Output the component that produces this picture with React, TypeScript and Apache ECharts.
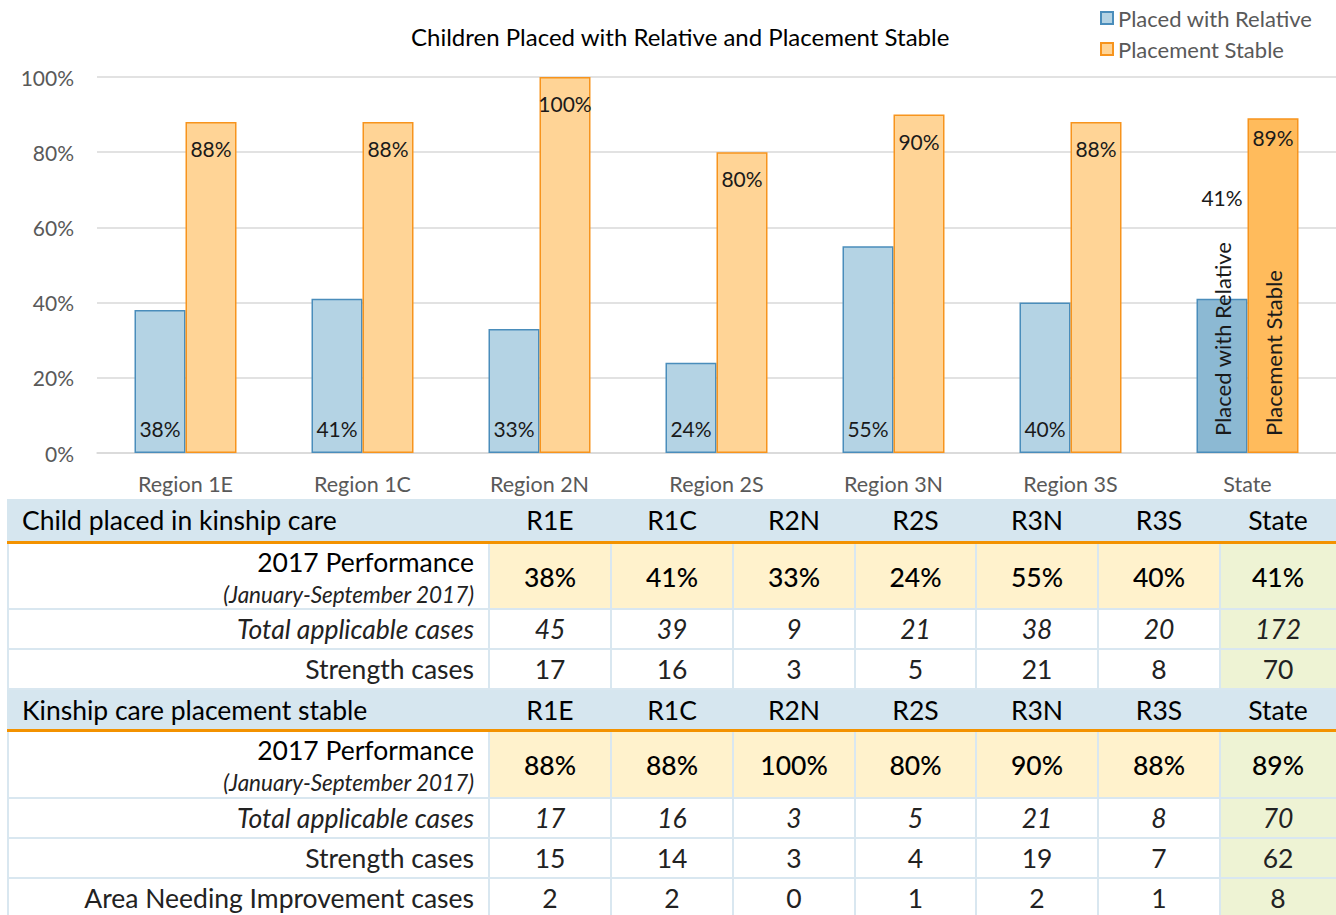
import React, { useEffect, useRef } from "react";
import * as echarts from "echarts";

const categories = ["Region 1E", "Region 1C", "Region 2N", "Region 2S", "Region 3N", "Region 3S", "State"];
const placedWithRelative = [38, 41, 33, 24, 55, 40, 41];
const placementStable = [88, 88, 100, 80, 90, 88, 89];

const tableColumns = ["R1E", "R1C", "R2N", "R2S", "R3N", "R3S", "State"];
const kinshipTotal = [45, 39, 9, 21, 38, 20, 172];
const kinshipStrength = [17, 16, 3, 5, 21, 8, 70];
const stableTotal = [17, 16, 3, 5, 21, 8, 70];
const stableStrength = [15, 14, 3, 4, 19, 7, 62];
const stableImprovement = [2, 2, 0, 1, 2, 1, 8];

const FONT = "Lato, 'Open Sans', sans-serif";

const sections = [
  {
    top: 499, headerH: 42, perfH: 64,
    title: "Child placed in kinship care",
    perf: placedWithRelative,
    rows: [
      { label: "Total applicable cases", italic: true, values: kinshipTotal },
      { label: "Strength cases", italic: false, values: kinshipStrength },
    ],
  },
  {
    top: 690, headerH: 39, perfH: 65,
    title: "Kinship care placement stable",
    perf: placementStable,
    rows: [
      { label: "Total applicable cases", italic: true, values: stableTotal },
      { label: "Strength cases", italic: false, values: stableStrength },
      { label: "Area Needing Improvement cases", italic: false, values: stableImprovement },
    ],
  },
];

const colX = [489, 611, 733, 855, 976, 1098, 1220, 1336];

function rect(x: number, y: number, w: number, h: number, fill: string) {
  return { type: "rect", silent: true, shape: { x, y, width: w, height: h }, style: { fill } };
}
function txt(x: number, y: number, s: string, o: any = {}) {
  return {
    type: "text", silent: true, x, y,
    style: {
      text: s, fill: o.fill || "#111", fontSize: o.size || 26.5, fontFamily: FONT,
      fontStyle: o.italic ? "italic" : "normal", fontWeight: o.weight || "normal",
      align: o.align || "center", verticalAlign: "middle",
    },
  };
}

function buildTable() {
  const g: any[] = [];
  g.push(rect(7, 499, 1329, 416, "#D9E7F0"));
  sections.forEach((sec) => {
    let y = sec.top;
    g.push(rect(7, y, 1329, sec.headerH, "#D6E6EF"));
    g.push(txt(22, y + sec.headerH / 2, sec.title, { align: "left", fill: "#000" }));
    tableColumns.forEach((c, i) => {
      g.push(txt((colX[i] + colX[i + 1]) / 2, y + sec.headerH / 2, c, { fill: "#000" }));
    });
    y += sec.headerH;
    g.push(rect(7, y, 1329, 3, "#F39200"));
    y += 3;
    // performance row
    g.push(rect(9, y, colX[0] - 10, sec.perfH, "#FFFFFF"));
    g.push(txt(474, y + 18, "2017 Performance", { align: "right", fill: "#000" }));
    g.push(txt(474, y + 50, "(January-September 2017)", { align: "right", italic: true, size: 22.5, fill: "#222" }));
    sec.perf.forEach((v, i) => {
      const w = colX[i + 1] - colX[i] - 2 + (i === 6 ? 2 : 0);
      g.push(rect(colX[i] + 1, y, w, sec.perfH, i === 6 ? "#EEF3D4" : "#FFF2CC"));
      g.push(txt((colX[i] + colX[i + 1]) / 2, y + 33, v + "%", { fill: "#000", weight: 500 }));
    });
    y += sec.perfH + 2;
    sec.rows.forEach((r) => {
      g.push(rect(9, y, colX[0] - 10, 38, "#FFFFFF"));
      g.push(txt(474, y + 19, r.label, { align: "right", italic: r.italic, fill: "#222" }));
      r.values.forEach((v, i) => {
        const w = colX[i + 1] - colX[i] - 2 + (i === 6 ? 2 : 0);
        g.push(rect(colX[i] + 1, y, w, 38, i === 6 ? "#EEF3D4" : "#FFFFFF"));
        g.push(txt((colX[i] + colX[i + 1]) / 2, y + 19, String(v), { italic: r.italic, fill: "#222" }));
      });
      y += 40;
    });
  });
  return g;
}

export default function App() {
  const ref = useRef<HTMLDivElement>(null);
  useEffect(() => {
    document.body.style.margin = "0";
    const chart = echarts.init(ref.current!, null, { renderer: "svg" });
    const blue = "#B4D3E4", blueBorder = "#4A8DBB", blueState = "#8CB9D3";
    const orange = "#FFD496", orangeBorder = "#F7941D", orangeState = "#FFBB5C";
    chart.setOption({
      animation: false,
      textStyle: { fontFamily: FONT },
      title: {
        text: "Children Placed with Relative and Placement Stable",
        left: 406, top: 19,
        textStyle: { fontSize: 24, fontWeight: "normal", color: "#000", fontFamily: FONT },
      },
      legend: {
        orient: "vertical", left: 1100, top: 7, padding: 0, itemGap: 9,
        itemWidth: 12, itemHeight: 12, icon: "rect",
        textStyle: { fontSize: 22, color: "#595959", fontFamily: FONT },
      },
      grid: { left: 97, right: 0, top: 77, height: 376, containLabel: false },
      xAxis: {
        type: "category", data: categories,
        axisLine: { lineStyle: { color: "#D9D9D9", width: 1.5 } },
        axisTick: { show: false },
        axisLabel: { fontSize: 21.5, color: "#595959", margin: 20, fontFamily: FONT },
      },
      yAxis: {
        type: "value", min: 0, max: 100, interval: 20,
        axisLabel: { formatter: "{value}%", fontSize: 21, color: "#595959", margin: 23, fontFamily: FONT },
        splitLine: { lineStyle: { color: "#D9D9D9", width: 1.5 } },
        axisLine: { show: false }, axisTick: { show: false },
      },
      series: [
        {
          name: "Placed with Relative", type: "bar", barWidth: 51, barGap: "0%",
          itemStyle: { color: blue, borderColor: blueBorder, borderWidth: 1.5 },
          label: { show: true, position: "insideBottom", distance: 14, formatter: "{c}%", fontSize: 21, color: "#1a1a1a", fontFamily: FONT },
          data: placedWithRelative.map((v, i) =>
            i === categories.length - 1
              ? { value: v, itemStyle: { color: blueState }, label: { position: "top", distance: 91 } }
              : v
          ),
        },
        {
          name: "Placement Stable", type: "bar", barWidth: 51, barGap: "0%",
          itemStyle: { color: orange, borderColor: orangeBorder, borderWidth: 1.5 },
          label: { show: true, position: "insideTop", distance: 16, formatter: "{c}%", fontSize: 21, color: "#1a1a1a", fontFamily: FONT },
          data: placementStable.map((v, i) =>
            i === categories.length - 1
              ? { value: v, itemStyle: { color: orangeState }, label: { distance: 9 } }
              : v
          ),
        },
      ],
    });
    const p = chart.convertToPixel({ gridIndex: 0 }, [categories.length - 1, 0]) as number[];
    const barW = 51;
    const extra = [
      {
        type: "text", silent: true, z: 100, x: p[0] - barW / 2, y: p[1] - 17, rotation: Math.PI / 2,
        style: { text: "Placed with Relative", fontSize: 22, fontFamily: FONT, fill: "#1a1a1a", align: "left", verticalAlign: "middle" },
      },
      {
        type: "text", silent: true, z: 100, x: p[0] + barW / 2, y: p[1] - 17, rotation: Math.PI / 2,
        style: { text: "Placement Stable", fontSize: 22, fontFamily: FONT, fill: "#1a1a1a", align: "left", verticalAlign: "middle" },
      },
    ];
    chart.setOption({ graphic: [...buildTable(), ...extra] });
    return () => chart.dispose();
  }, []);
  return <div ref={ref} style={{ width: 1336, height: 915 }} />;
}
